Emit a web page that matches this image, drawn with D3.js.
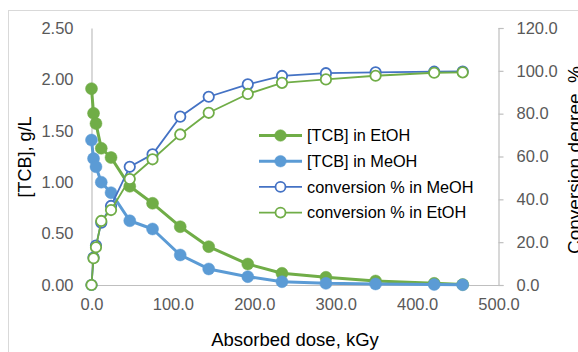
<!DOCTYPE html>
<html><head><meta charset="utf-8">
<script src="https://cdn.jsdelivr.net/npm/d3@7"></script>
<style>
html,body{margin:0;padding:0;background:#fff;overflow:hidden}
svg{display:block;font-family:"Liberation Sans",Arial,sans-serif}
</style></head>
<body><svg id="c" width="578" height="352"></svg>
<script>
const dose = [0, 2.5, 5.5, 12, 24, 47, 75, 109, 144, 192, 234, 288, 349, 421, 456];
const tcbEtOH = [1.91, 1.67, 1.57, 1.33, 1.24, 0.96, 0.795, 0.567, 0.373, 0.204, 0.114, 0.075, 0.039, 0.016, 0.005];
const tcbMeOH = [1.41, 1.23, 1.15, 1.00, 0.898, 0.625, 0.545, 0.292, 0.156, 0.081, 0.032, 0.016, 0.010, 0.005, 0.002];
const convMeOH = [0, 12.8, 18.4, 29.1, 36.9, 55.2, 61.0, 78.6, 87.9, 93.7, 97.6, 98.9, 99.3, 99.6, 99.7];
const convEtOH = [0, 12.5, 17.6, 29.9, 35.0, 49.5, 58.7, 70.3, 80.4, 89.2, 94.4, 96.0, 97.7, 99.1, 99.3];
const xTicks = [0, 100, 200, 300, 400, 500];
const yLeftTicks = [0, 0.5, 1.0, 1.5, 2.0, 2.5];
const yRightTicks = [0, 20, 40, 60, 80, 100, 120];
const seriesNames = ["[TCB] in EtOH", "[TCB] in MeOH", "conversion % in MeOH", "conversion % in EtOH"];

const svg = d3.select("#c");
const L = 91.5, R = 498.5, T = 28, B = 285;
const x = d3.scaleLinear().domain([0, 500]).range([L, R]);
const yL = d3.scaleLinear().domain([0, 2.5]).range([B, T]);
const yR = d3.scaleLinear().domain([0, 120]).range([B, T]);

// outer chart border
svg.append("rect").attr("x", 8.5).attr("y", 10.5).attr("width", 700).attr("height", 500)
  .attr("fill", "none").attr("stroke", "#D9D9D9").attr("stroke-width", 1);

const axisColor = "#BFBFBF", labelColor = "#595959";

// bottom axis
const gx = svg.append("g").attr("transform", `translate(0,${B})`)
  .call(d3.axisBottom(x).tickValues(xTicks).tickSize(0).tickPadding(13).tickFormat(d3.format(".1f")));
// left axis
const gl = svg.append("g").attr("transform", `translate(${L},0)`)
  .call(d3.axisLeft(yL).tickValues(yLeftTicks).tickSize(0).tickPadding(18).tickFormat(d3.format(".2f")));
// right axis
const gr = svg.append("g").attr("transform", `translate(${R},0)`)
  .call(d3.axisRight(yR).tickValues(yRightTicks).tickSize(5).tickPadding(13).tickFormat(d3.format(".1f")));

[gx, gl, gr].forEach(g => {
  g.select(".domain").attr("stroke", axisColor).attr("stroke-width", 1.2);
  g.selectAll(".tick line").attr("stroke", axisColor).attr("stroke-width", 1.2);
  g.selectAll(".tick text").attr("fill", labelColor).style("font-size", "16.5px")
   .style("font-family", '"Liberation Sans", Arial, sans-serif');
});

// axis titles
svg.append("text").attr("x", 295).attr("y", 346).attr("text-anchor", "middle")
  .style("font-size", "18.5px").attr("fill", "#000").text("Absorbed dose, kGy");
svg.append("text").attr("transform", "translate(31,157) rotate(-90)").attr("text-anchor", "middle")
  .style("font-size", "18px").attr("fill", "#000").text("[TCB], g/L");
svg.append("text").attr("transform", "translate(581,160) rotate(-90)").attr("text-anchor", "middle")
  .style("font-size", "19px").attr("fill", "#000").text("Conversion degree, %");

const green = "#70AD47", lblue = "#5B9BD5", dblue = "#4472C4";

function drawSeries(vals, yScale, color, filled) {
  const pts = dose.map((d, i) => [x(d), yScale(vals[i])]);
  svg.append("path").attr("d", d3.line()(pts)).attr("fill", "none")
    .attr("stroke", color).attr("stroke-width", filled ? 3 : 1.8).attr("stroke-linejoin", "round");
  svg.append("g").selectAll("circle").data(pts).join("circle")
    .attr("cx", d => d[0]).attr("cy", d => d[1]).attr("r", filled ? 6 : 5.2)
    .attr("fill", filled ? color : "#fff").attr("stroke", color).attr("stroke-width", filled ? 0.5 : 1.8);
}
drawSeries(tcbEtOH, yL, green, true);
drawSeries(tcbMeOH, yL, lblue, true);
drawSeries(convMeOH, yR, dblue, false);
drawSeries(convEtOH, yR, green, false);

// legend
const legend = [
  {name: seriesNames[0], color: green, filled: true},
  {name: seriesNames[1], color: lblue, filled: true},
  {name: seriesNames[2], color: dblue, filled: false},
  {name: seriesNames[3], color: green, filled: false}
];
const lg = svg.append("g");
legend.forEach((d, i) => {
  const yy = 135.5 + i * 25.7;
  lg.append("line").attr("x1", 259).attr("x2", 302).attr("y1", yy).attr("y2", yy)
    .attr("stroke", d.color).attr("stroke-width", d.filled ? 3 : 1.8);
  lg.append("circle").attr("cx", 280.5).attr("cy", yy).attr("r", d.filled ? 5.8 : 5)
    .attr("fill", d.filled ? d.color : "#fff").attr("stroke", d.color).attr("stroke-width", d.filled ? 0.5 : 1.8);
  lg.append("text").attr("x", 307).attr("y", yy).attr("dy", "0.35em")
    .style("font-size", "16.3px").attr("fill", "#000").text(d.name);
});
</script></body></html>
